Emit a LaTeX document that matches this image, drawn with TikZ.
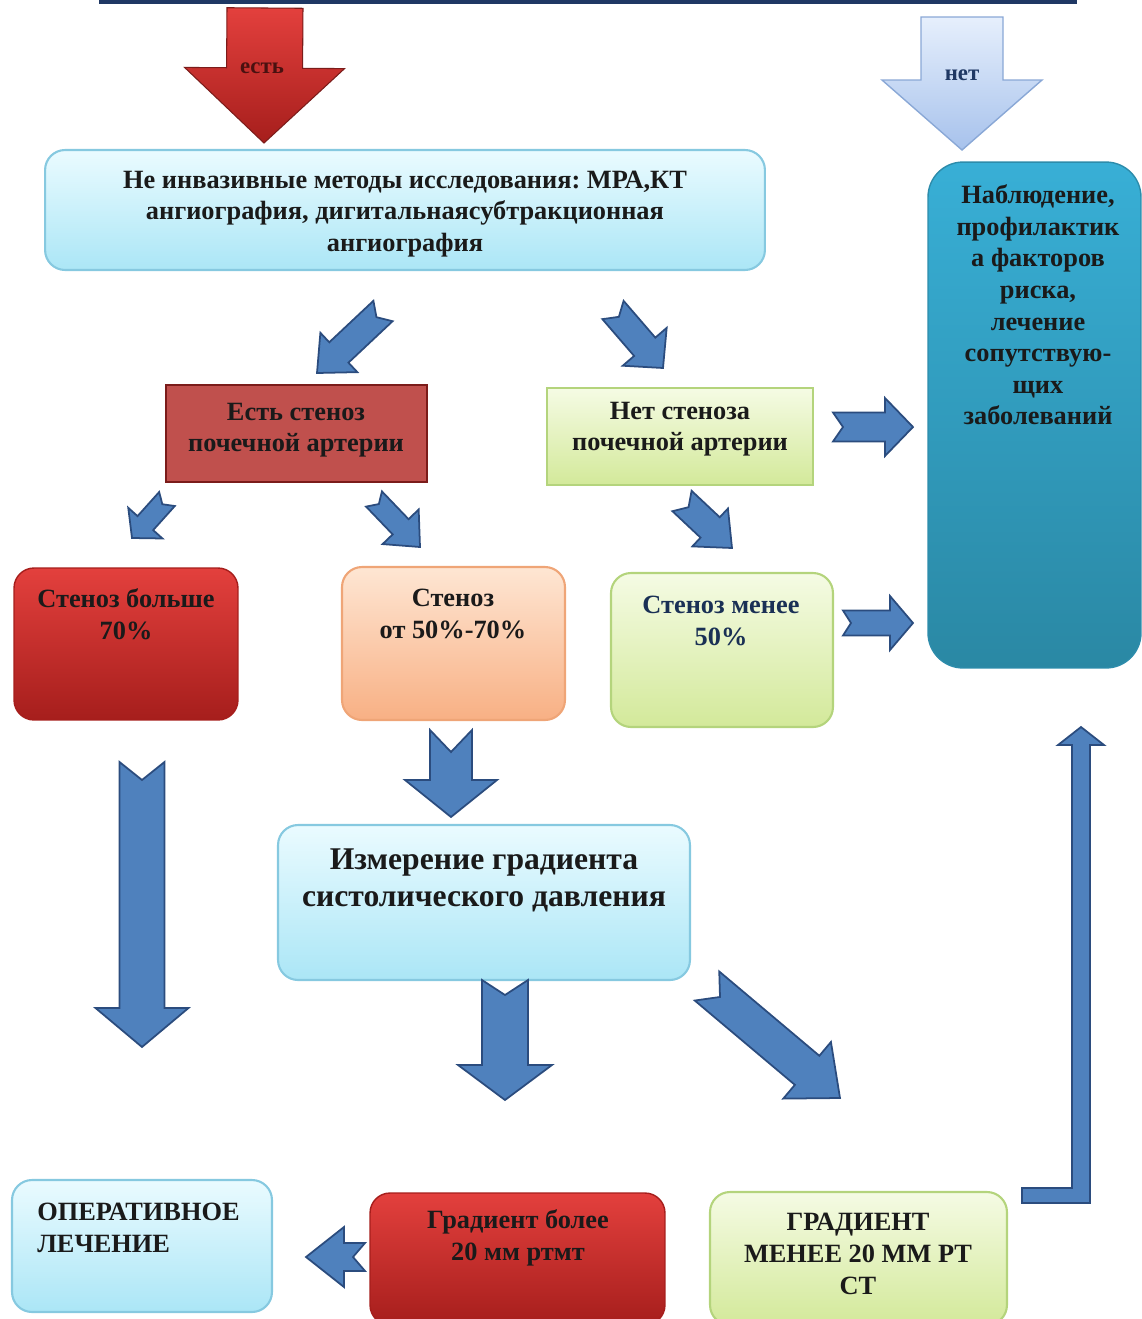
\documentclass[tikz,border=0pt]{standalone}
\usepackage{fontspec}
\setmainfont{Liberation Serif}
\usepackage{xcolor}
\usetikzlibrary{positioning,calc}
\frenchspacing

\definecolor{txtdark}{HTML}{1A1A1A}
\definecolor{arrblue}{HTML}{4F81BD}
\definecolor{arredge}{HTML}{2B4C7E}
\definecolor{cyantop}{HTML}{EAFBFF}
\definecolor{cyanbot}{HTML}{ABE6F6}
\definecolor{cyanedge}{HTML}{86C9E0}
\definecolor{tealtop}{HTML}{38AFD6}
\definecolor{tealbot}{HTML}{2A88A4}
\definecolor{redtop}{HTML}{E3403D}
\definecolor{redbot}{HTML}{A61E1C}
\definecolor{redflat}{HTML}{C0504D}
\definecolor{rededge}{HTML}{7B1C1A}
\definecolor{peachtop}{HTML}{FEE6D3}
\definecolor{peachbot}{HTML}{F8B084}
\definecolor{peachedge}{HTML}{EFA577}
\definecolor{greentop}{HTML}{F5FBE4}
\definecolor{greenbot}{HTML}{D3E99A}
\definecolor{greenedge}{HTML}{B4D47C}
\definecolor{navy}{HTML}{1F3864}
\definecolor{skytop}{HTML}{E6EFFC}
\definecolor{skybot}{HTML}{A7C2EC}
\definecolor{skyedge}{HTML}{8AA8D6}

\tikzset{
  txt/.style={font=\bfseries\fontsize{15}{18}\selectfont, text=txtdark, align=center, inner sep=0pt},
  cyanbox/.style={draw=cyanedge, line width=1.2pt, rounded corners=0.4cm, top color=cyantop, bottom color=cyanbot},
  tealbox/.style={draw=tealtop!80!black, line width=0.8pt, rounded corners=0.7cm, top color=tealtop, bottom color=tealbot},
  redrect/.style={draw=rededge, line width=1.5pt, fill=redflat},
  redbox/.style={draw=redbot, line width=0.8pt, rounded corners=0.4cm, top color=redtop, bottom color=redbot},
  peachbox/.style={draw=peachedge, line width=1.2pt, rounded corners=0.4cm, top color=peachtop, bottom color=peachbot},
  greenrect/.style={draw=greenedge, line width=1.2pt, top color=greentop, bottom color=greenbot},
  greenbox/.style={draw=greenedge, line width=1.2pt, rounded corners=0.4cm, top color=greentop, bottom color=greenbot},
  blkarrow/.style={fill=arrblue, draw=arredge, line width=1pt, line join=miter},
}

% block arrow: [style]{tail}{tip}{shaft half}{head half}{head length}{notch}, sizes in px
\newcommand{\notcharrow}[7][blkarrow]{%
  \coordinate (na) at (#2);
  \coordinate (nb) at (#3);
  \coordinate (nh) at ($(nb)!#6*0.02cm!(na)$);
  \coordinate (nn) at ($(na)!#7*0.02cm!(nb)$);
  \draw[#1] ($(na)!#4*0.02cm!90:(nb)$) -- ($(nh)!#4*0.02cm!-90:(na)$)
    -- ($(nh)!#5*0.02cm!-90:(na)$) -- (nb) -- ($(nh)!#5*0.02cm!90:(na)$)
    -- ($(nh)!#4*0.02cm!90:(na)$) -- ($(na)!#4*0.02cm!-90:(nb)$) -- (nn) -- cycle;
}

\begin{document}
\begin{tikzpicture}[x=0.02cm, y=-0.02cm]
  \useasboundingbox (0,0) rectangle (1142,1319);

  % top box (cut off)
  \node[draw=navy, line width=2pt, fill=white, minimum width=19.5cm, minimum height=2cm] (topBox) at (588,-48) {};

  % boxes
  \node[cyanbox, minimum width=14.4cm, minimum height=2.4cm] (nonInv) at (405,210) {};
  \node[tealbox, minimum width=4.26cm, minimum height=10.12cm] (observ) at (1034.5,415) {};
  \node[redrect, minimum width=5.22cm, minimum height=1.94cm] (stenYes) at (296.5,433.5) {};
  \node[greenrect, minimum width=5.32cm, minimum height=1.94cm] (stenNo) at (680,436.5) {};
  \node[redbox, minimum width=4.48cm, minimum height=3.04cm] (sten70) at (126,644) {};
  \node[peachbox, minimum width=4.46cm, minimum height=3.06cm] (sten5070) at (453.5,643.5) {};
  \node[greenbox, minimum width=4.44cm, minimum height=3.08cm] (sten50) at (722,650) {};
  \node[cyanbox, minimum width=8.24cm, minimum height=3.1cm] (measure) at (484,902.5) {};
  \node[cyanbox, minimum width=5.2cm, minimum height=2.64cm] (oper) at (142,1246) {};
  \node[redbox, minimum width=5.9cm, minimum height=2.64cm] (gradHi) at (517.5,1259) {};
  \node[greenbox, minimum width=5.94cm, minimum height=2.66cm] (gradLo) at (858.5,1258.5) {};

  % texts
  \node[txt] (nonInvTxt) at (405,214) {Не инвазивные методы исследования: МРА,КТ\\ангиография, дигитальнаясубтракционная\\ангиография};
  \node[txt] (observTxt) at (1038,305) {Наблюдение,\\профилактик\\а факторов\\риска,\\лечение\\сопутствую-\\щих\\заболеваний};
  \node[txt] (stenYesTxt) at (296,430) {Есть стеноз\\почечной артерии};
  \node[txt] (stenNoTxt) at (680,429) {Нет стеноза\\почечной артерии};
  \node[txt] (sten70Txt) at (126,614) {Стеноз больше\\70\%};
  \node[txt] (sten5070Txt) at (453,614) {Стеноз\\от 50\%-70\%};
  \node[txt, text=navy!85!black] (sten50Txt) at (721,621) {Стеноз менее\\50\%};
  \node[txt, font=\bfseries\fontsize{18}{21}\selectfont] (measureTxt) at (484,880) {Измерение градиента\\систолического давления};
  \node[txt, align=left, anchor=west] (operTxt) at (37,1228) {ОПЕРАТИВНОЕ\\ЛЕЧЕНИЕ};
  \node[txt] (gradHiTxt) at (518,1238) {Градиент более\\20 мм ртмт};
  \node[txt] (gradLoTxt) at (858,1254) {ГРАДИЕНТ\\МЕНЕЕ 20 ММ РТ\\СТ};

  % top arrows
  \notcharrow[draw=rededge, line width=0.6pt, top color=redtop, bottom color=redbot]{265,8}{264,143}{38}{80}{75}{0}
  \node[txt, font=\bfseries\fontsize{13}{15}\selectfont, text=rededge!60!black] (yesLbl) at (262,68) {есть};
  \notcharrow[draw=skyedge, line width=0.8pt, top color=skytop, bottom color=skybot]{962,17}{962,150}{41}{80}{70}{0}
  \node[txt, font=\bfseries\fontsize{13}{15}\selectfont, text=navy] (noLbl) at (962,75) {нет};

  % blue arrows
  \notcharrow{383,311}{317,373}{14}{27}{30}{9}
  \notcharrow{613,310}{663,368}{14}{29}{28}{9}
  \notcharrow{833,427}{913,427}{14.5}{29}{28}{10}
  \notcharrow{167,499}{132,538}{10.5}{23}{20}{7}
  \notcharrow{374,499}{420,547}{11}{25}{28}{7}
  \notcharrow{682,501}{732,548}{14}{26}{30}{9}
  \notcharrow{843,623}{913,623}{12.5}{27}{23}{8}
  \notcharrow{451,730}{451,817}{21}{46}{37}{22}
  \notcharrow{142,762}{142,1047}{22.5}{46.5}{39}{18}
  \notcharrow{505,980}{505,1100}{23}{47}{35}{15}
  \notcharrow{707,986}{840,1098}{19}{37}{43}{17}
  \notcharrow{365,1257}{306,1257}{14}{30}{38}{12}

  % bent arrow back up
  \draw[blkarrow] (1022,1188) -- (1072,1188) -- (1072,745) -- (1058,745) -- (1081,727)
    -- (1104,745) -- (1090,745) -- (1090,1203) -- (1022,1203) -- cycle;
\end{tikzpicture}
\end{document}
